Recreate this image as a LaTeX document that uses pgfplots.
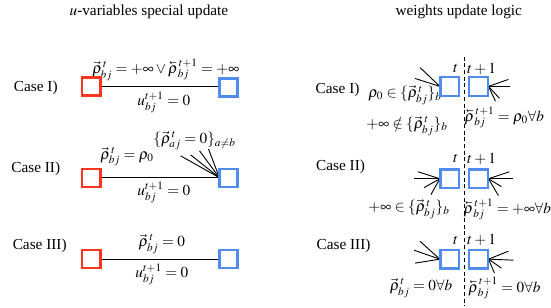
\documentclass[border=0pt]{standalone}
\usepackage{mathptmx}
\usepackage[no-math]{fontspec}
\setmainfont{Liberation Serif}
\usepackage{graphicx}
\usepackage{pgfplots}
\pgfplotsset{compat=1.18}
\definecolor{cred}{RGB}{250,55,30}
\definecolor{cblue}{RGB}{80,140,240}
\newcommand{\cev}[1]{\reflectbox{\ensuremath{\vec{\reflectbox{\ensuremath{#1}}}}}}
\begin{document}
\begin{tikzpicture}[every node/.style={inner sep=0pt}]
\begin{axis}[width=358.15pt, height=201.5pt, scale only axis,
  xmin=0, xmax=551, ymin=0, ymax=310, y dir=reverse,
  axis lines=none, clip=false]
\addplot[draw=none] coordinates {(0,0) (551,310)};
% ---- left panel connecting lines
\addplot[black, line width=0.7pt] coordinates {(101,87) (221,87)};
\addplot[black, line width=0.7pt] coordinates {(101,179) (221,179)};
\addplot[black, line width=0.7pt] coordinates {(101,261) (221,261)};
% fan in case II left
\addplot[black, line width=0.6pt] coordinates {(182,157) (221,179)};
\addplot[black, line width=0.6pt] coordinates {(192,156) (221,179)};
\addplot[black, line width=0.6pt] coordinates {(201,152) (221,179)};
\addplot[black, line width=0.6pt] coordinates {(210,150) (221,179)};
% ---- right panel dashed line
\addplot[black, line width=0.6pt, dash pattern=on 2.6pt off 1.8pt] coordinates {(468,57) (468,308)};
% case I fans
\addplot[black, line width=0.6pt] coordinates {(423,68) (443,87)};
\addplot[black, line width=0.6pt] coordinates {(418,79) (443,87)};
\addplot[black, line width=0.6pt] coordinates {(512,80) (492,87)};
\addplot[black, line width=0.6pt] coordinates {(514,87) (492,87)};
\addplot[black, line width=0.6pt] coordinates {(503,99) (492,87)};
\addplot[black, line width=0.6pt] coordinates {(499,102) (492,87)};
% case II fans
\addplot[black, line width=0.6pt] coordinates {(421,173) (443,180)};
\addplot[black, line width=0.6pt] coordinates {(417,180) (443,180)};
\addplot[black, line width=0.6pt] coordinates {(427,189) (443,180)};
\addplot[black, line width=0.6pt] coordinates {(434,196) (443,180)};
\addplot[black, line width=0.6pt] coordinates {(513,173) (492,180)};
\addplot[black, line width=0.6pt] coordinates {(517,180) (492,180)};
\addplot[black, line width=0.6pt] coordinates {(505,188) (492,180)};
\addplot[black, line width=0.6pt] coordinates {(502,197) (492,180)};
% case III fans
\addplot[black, line width=0.6pt] coordinates {(423,243) (443,261)};
\addplot[black, line width=0.6pt] coordinates {(417,252) (443,261)};
\addplot[black, line width=0.6pt] coordinates {(418,265) (443,261)};
\addplot[black, line width=0.6pt] coordinates {(512,253) (492,261)};
\addplot[black, line width=0.6pt] coordinates {(517,262) (492,261)};
\addplot[black, line width=0.6pt] coordinates {(505,270) (492,261)};
\addplot[black, line width=0.6pt] coordinates {(498,275) (492,261)};
% ---- squares
\addplot[only marks, mark=square, mark size=5.9pt, mark options={line width=1.5pt, draw=cred}] coordinates {(92,87) (92,179) (92,261)};
\addplot[only marks, mark=square, mark size=5.9pt, mark options={line width=1.5pt, draw=cblue}] coordinates {(230,88) (230,179) (230,261)};
\addplot[only marks, mark=square, mark size=6.1pt, mark options={line width=1.5pt, draw=cblue}] coordinates {(453,87) (482,87) (453,180) (482,180) (453,261) (482,261)};
% ---- texts left
\node at (axis cs:150,12) {$u$-variables special update};
\node at (axis cs:36,88) {Case I)};
\node at (axis cs:36,170) {Case II)};
\node at (axis cs:40,248) {Case III)};
\node at (axis cs:167,70) {$\vec\rho^{\,t}_{bj} = +\infty \vee \cev{\rho}^{\,t+1}_{bj} = +\infty$};
\node at (axis cs:165,103) {$u^{t+1}_{bj} = 0$};
\node at (axis cs:128,158) {$\vec\rho^{\,t}_{bj} = \rho_0$};
\node at (axis cs:196,142) {$\{\vec\rho^{\,t}_{aj} = 0\}_{a\neq b}$};
\node at (axis cs:165,194) {$u^{t+1}_{bj} = 0$};
\node at (axis cs:163,246) {$\vec\rho^{\,t}_{bj} = 0$};
\node at (axis cs:163,276) {$u^{t+1}_{bj} = 0$};
% ---- texts right
\node at (axis cs:462,12) {weights update logic};
\node at (axis cs:340,90) {Case I)};
\node at (axis cs:343,168) {Case II)};
\node at (axis cs:346,248) {Case III)};
\node at (axis cs:459,69) {$t$};
\node at (axis cs:485,69) {$t+1$};
\node at (axis cs:459,160) {$t$};
\node at (axis cs:485,160) {$t+1$};
\node at (axis cs:459,242) {$t$};
\node at (axis cs:485,242) {$t+1$};
\node at (axis cs:408,96) {$\rho_0 \in \{\vec\rho^{\,t}_{bj}\}_b$};
\node at (axis cs:410,127) {$+\infty \notin \{\vec\rho^{\,t}_{bj}\}_b$};
\node at (axis cs:508,118) {$\cev{\rho}^{\,t+1}_{bj} = \rho_0\forall b$};
\node at (axis cs:412,211) {$+\infty \in \{\vec\rho^{\,t}_{bj}\}_b$};
\node at (axis cs:511,211) {$\cev{\rho}^{\,t+1}_{bj} = +\infty\forall b$};
\node at (axis cs:424,290) {$\vec\rho^{\,t}_{bj} = 0\forall b$};
\node at (axis cs:508,290) {$\cev{\rho}^{\,t+1}_{bj} = 0\forall b$};
\end{axis}
\end{tikzpicture}
\end{document}
